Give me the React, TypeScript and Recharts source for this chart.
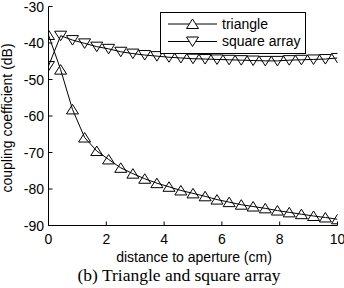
import React from 'react';
import { LineChart, Line, XAxis, YAxis, Legend, Label } from 'recharts';

const distance = [0, 0.42, 0.83, 1.25, 1.67, 2.08, 2.5, 2.92, 3.33, 3.75, 4.17, 4.58, 5, 5.42, 5.83, 6.25, 6.67, 7.08, 7.5, 7.92, 8.33, 8.75, 9.17, 9.58, 10];
const triangle = [-37.8, -47.3, -58.2, -65.9, -69.6, -71.9, -74.2, -75.8, -77.2, -78.4, -79.4, -80.4, -81.2, -82.0, -82.9, -83.6, -84.3, -84.8, -85.3, -85.9, -86.4, -86.9, -87.4, -87.8, -88.3];
const squareArray = [-46.3, -38.0, -39.2, -40.1, -41.0, -41.6, -42.4, -42.9, -43.3, -43.6, -43.9, -44.1, -44.3, -44.4, -44.5, -44.6, -44.7, -44.8, -44.9, -44.9, -44.7, -44.6, -44.5, -44.4, -44.1];
const xTicks = [0, 2, 4, 6, 8, 10];
const yTicks = [-90, -80, -70, -60, -50, -40, -30];
const seriesNames = ['triangle', 'square array'];

const data = distance.map((d, i) => ({ x: d, tri: triangle[i], sq: squareArray[i] }));

const SANS = '"Liberation Sans", Arial, Helvetica, sans-serif';
const SERIF = '"Liberation Serif", "Times New Roman", serif';

const upPath = (cx: number, cy: number) => `M${cx},${cy - 5}L${cx - 6},${cy + 4.5}L${cx + 6},${cy + 4.5}Z`;
const downPath = (cx: number, cy: number) => `M${cx - 6},${cy - 4.5}L${cx + 6},${cy - 4.5}L${cx},${cy + 5}Z`;

const UpDot = (props: any) => {
  const { cx, cy, index } = props;
  if (cx == null || cy == null) return <g key={index} />;
  return <path key={index} d={upPath(cx, cy)} fill="none" stroke="#000" strokeWidth={1} />;
};
const DownDot = (props: any) => {
  const { cx, cy, index } = props;
  if (cx == null || cy == null) return <g key={index} />;
  return <path key={index} d={downPath(cx, cy)} fill="none" stroke="#000" strokeWidth={1} />;
};

const BottomTick = (props: any) => {
  const { x, y, payload } = props;
  return (
    <g>
      <line x1={x} y1={y} x2={x} y2={y - 4} stroke="#000" />
      <text x={x} y={y + 18.5} textAnchor="middle" fontSize={14} fontFamily={SANS} fill="#000">{payload.value}</text>
    </g>
  );
};
const TopTick = (props: any) => {
  const { x, y } = props;
  return <line x1={x} y1={y} x2={x} y2={y + 4} stroke="#000" />;
};
const LeftTick = (props: any) => {
  const { x, y, payload } = props;
  return (
    <g>
      <line x1={x} y1={y} x2={x + 4} y2={y} stroke="#000" />
      <text x={x - 4.5} y={y + 5} textAnchor="end" fontSize={14} fontFamily={SANS} fill="#000">{payload.value}</text>
    </g>
  );
};
const RightTick = (props: any) => {
  const { x, y } = props;
  return <line x1={x} y1={y} x2={x - 4} y2={y} stroke="#000" />;
};

const LegendBox = () => (
  <svg width={147} height={43} style={{ display: 'block' }}>
    <rect x={0.5} y={0.5} width={145} height={41} fill="#fff" stroke="#000" />
    <line x1={8} y1={12} x2={57} y2={12} stroke="#000" />
    <path d={upPath(32.5, 12)} fill="#fff" stroke="#000" />
    <text x={62} y={17} fontSize={14} fontFamily={SANS} fill="#000">{seriesNames[0]}</text>
    <line x1={8} y1={29.5} x2={57} y2={29.5} stroke="#000" />
    <path d={downPath(32.5, 29.5)} fill="#fff" stroke="#000" />
    <text x={62} y={34} fontSize={14} fontFamily={SANS} fill="#000">{seriesNames[1]}</text>
  </svg>
);

export default function App() {
  return (
    <div style={{ position: 'absolute', left: 0, top: 0, width: 344, height: 288, background: '#fff' }}>
      <LineChart
        width={344}
        height={288}
        data={data}
        margin={{ top: 6.5, right: 6.5, bottom: 42.5, left: 8.5 }}
      >
        <XAxis
          dataKey="x"
          type="number"
          domain={[0, 10]}
          ticks={xTicks}
          allowDataOverflow
          height={20}
          tickSize={0}
          tickMargin={0}
          tickLine={false}
          axisLine={{ stroke: '#000' }}
          tick={<BottomTick />}
          interval={0}
        >
          <Label
            content={(p: any) => {
              const vb = p.viewBox;
              return (
                <g>
                  <text x={vb.x + vb.width / 2 + 1} y={vb.y + 36.5} textAnchor="middle" fontSize={14} fontFamily={SANS} fill="#000">distance to aperture (cm)</text>
                  <text x={vb.x + vb.width / 2 - 14} y={vb.y + 55} textAnchor="middle" fontSize={17.5} fontFamily={SERIF} fill="#000">(b) Triangle and square array</text>
                </g>
              );
            }}
          />
        </XAxis>
        <XAxis
          xAxisId="top"
          orientation="top"
          dataKey="x"
          type="number"
          domain={[0, 10]}
          ticks={xTicks}
          allowDataOverflow
          height={0}
          tickSize={0}
          tickMargin={0}
          tickLine={false}
          axisLine={{ stroke: '#000' }}
          tick={<TopTick />}
          interval={0}
        />
        <YAxis
          type="number"
          domain={[-90, -30]}
          ticks={yTicks}
          allowDataOverflow
          width={40}
          tickSize={0}
          tickMargin={0}
          tickLine={false}
          axisLine={{ stroke: '#000' }}
          tick={<LeftTick />}
          interval={0}
        >
          <Label
            content={(p: any) => {
              const vb = p.viewBox;
              const cy = vb.y + vb.height / 2 + 2;
              return (
                <text x={11.5} y={cy} transform={`rotate(-90, 11.5, ${cy})`} textAnchor="middle" fontSize={14} fontFamily={SANS} fill="#000">coupling coefficient (dB)</text>
              );
            }}
          />
        </YAxis>
        <YAxis
          yAxisId="right"
          orientation="right"
          type="number"
          domain={[-90, -30]}
          ticks={yTicks}
          allowDataOverflow
          width={0}
          tickSize={0}
          tickMargin={0}
          tickLine={false}
          axisLine={{ stroke: '#000' }}
          tick={<RightTick />}
          interval={0}
        />
        <Line dataKey="tri" name={seriesNames[0]} type="linear" stroke="#000" strokeWidth={1} dot={UpDot} activeDot={false} isAnimationActive={false} />
        <Line dataKey="sq" name={seriesNames[1]} type="linear" stroke="#000" strokeWidth={1} dot={DownDot} activeDot={false} isAnimationActive={false} />
        <Legend
          layout="horizontal"
          verticalAlign="middle"
          align="center"
          content={() => <LegendBox />}
          wrapperStyle={{ position: 'absolute', left: 160, top: 12, width: 147, height: 43, margin: 0, padding: 0 }}
        />
      </LineChart>
    </div>
  );
}
